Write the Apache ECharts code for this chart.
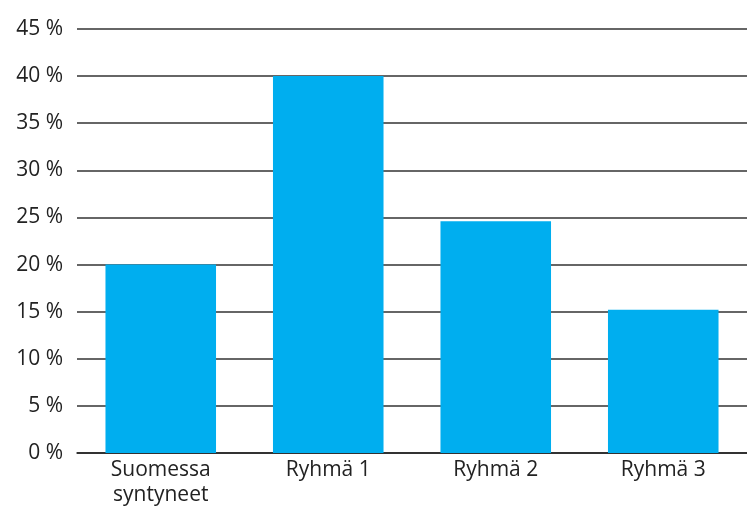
<!DOCTYPE html>
<html>
<head>
<meta charset="utf-8">
<script src="https://cdn.jsdelivr.net/npm/echarts@6/dist/echarts.min.js"></script>
<style>
  html, body { margin: 0; padding: 0; background: #fff; }
  #chart { width: 747px; height: 512px; }
</style>
</head>
<body>
<div id="chart"></div>
<script>
var categories = ['Suomessa\nsyntyneet', 'Ryhmä 1', 'Ryhmä 2', 'Ryhmä 3'];
var values = [20, 40, 24.6, 15.2];
var yMax = 45;
var yStep = 5;

var chart = echarts.init(document.getElementById('chart'));
chart.setOption({
  backgroundColor: '#FFF',
  animation: false,
  textStyle: { fontFamily: 'Open Sans' },
  grid: { left: 77, right: 0, top: 29, bottom: 59, containLabel: false },
  xAxis: {
    type: 'category',
    data: categories,
    axisLine: { show: true, lineStyle: { color: '#222', width: 1.5 } },
    axisTick: { show: false },
    axisLabel: { color: '#222', fontSize: 21, margin: 5, lineHeight: 25 }
  },
  yAxis: {
    type: 'value',
    min: 0,
    max: yMax,
    interval: yStep,
    axisLine: { show: false },
    axisTick: { show: false },
    splitLine: { lineStyle: { color: '#333', width: 1.5 } },
    axisLabel: {
      color: '#222', fontSize: 21, margin: 14,
      formatter: '{value} %'
    }
  },
  series: [{
    type: 'bar',
    data: values,
    barWidth: '66%',
    itemStyle: { color: '#00AEEF' }
  }]
});
</script>
</body>
</html>
